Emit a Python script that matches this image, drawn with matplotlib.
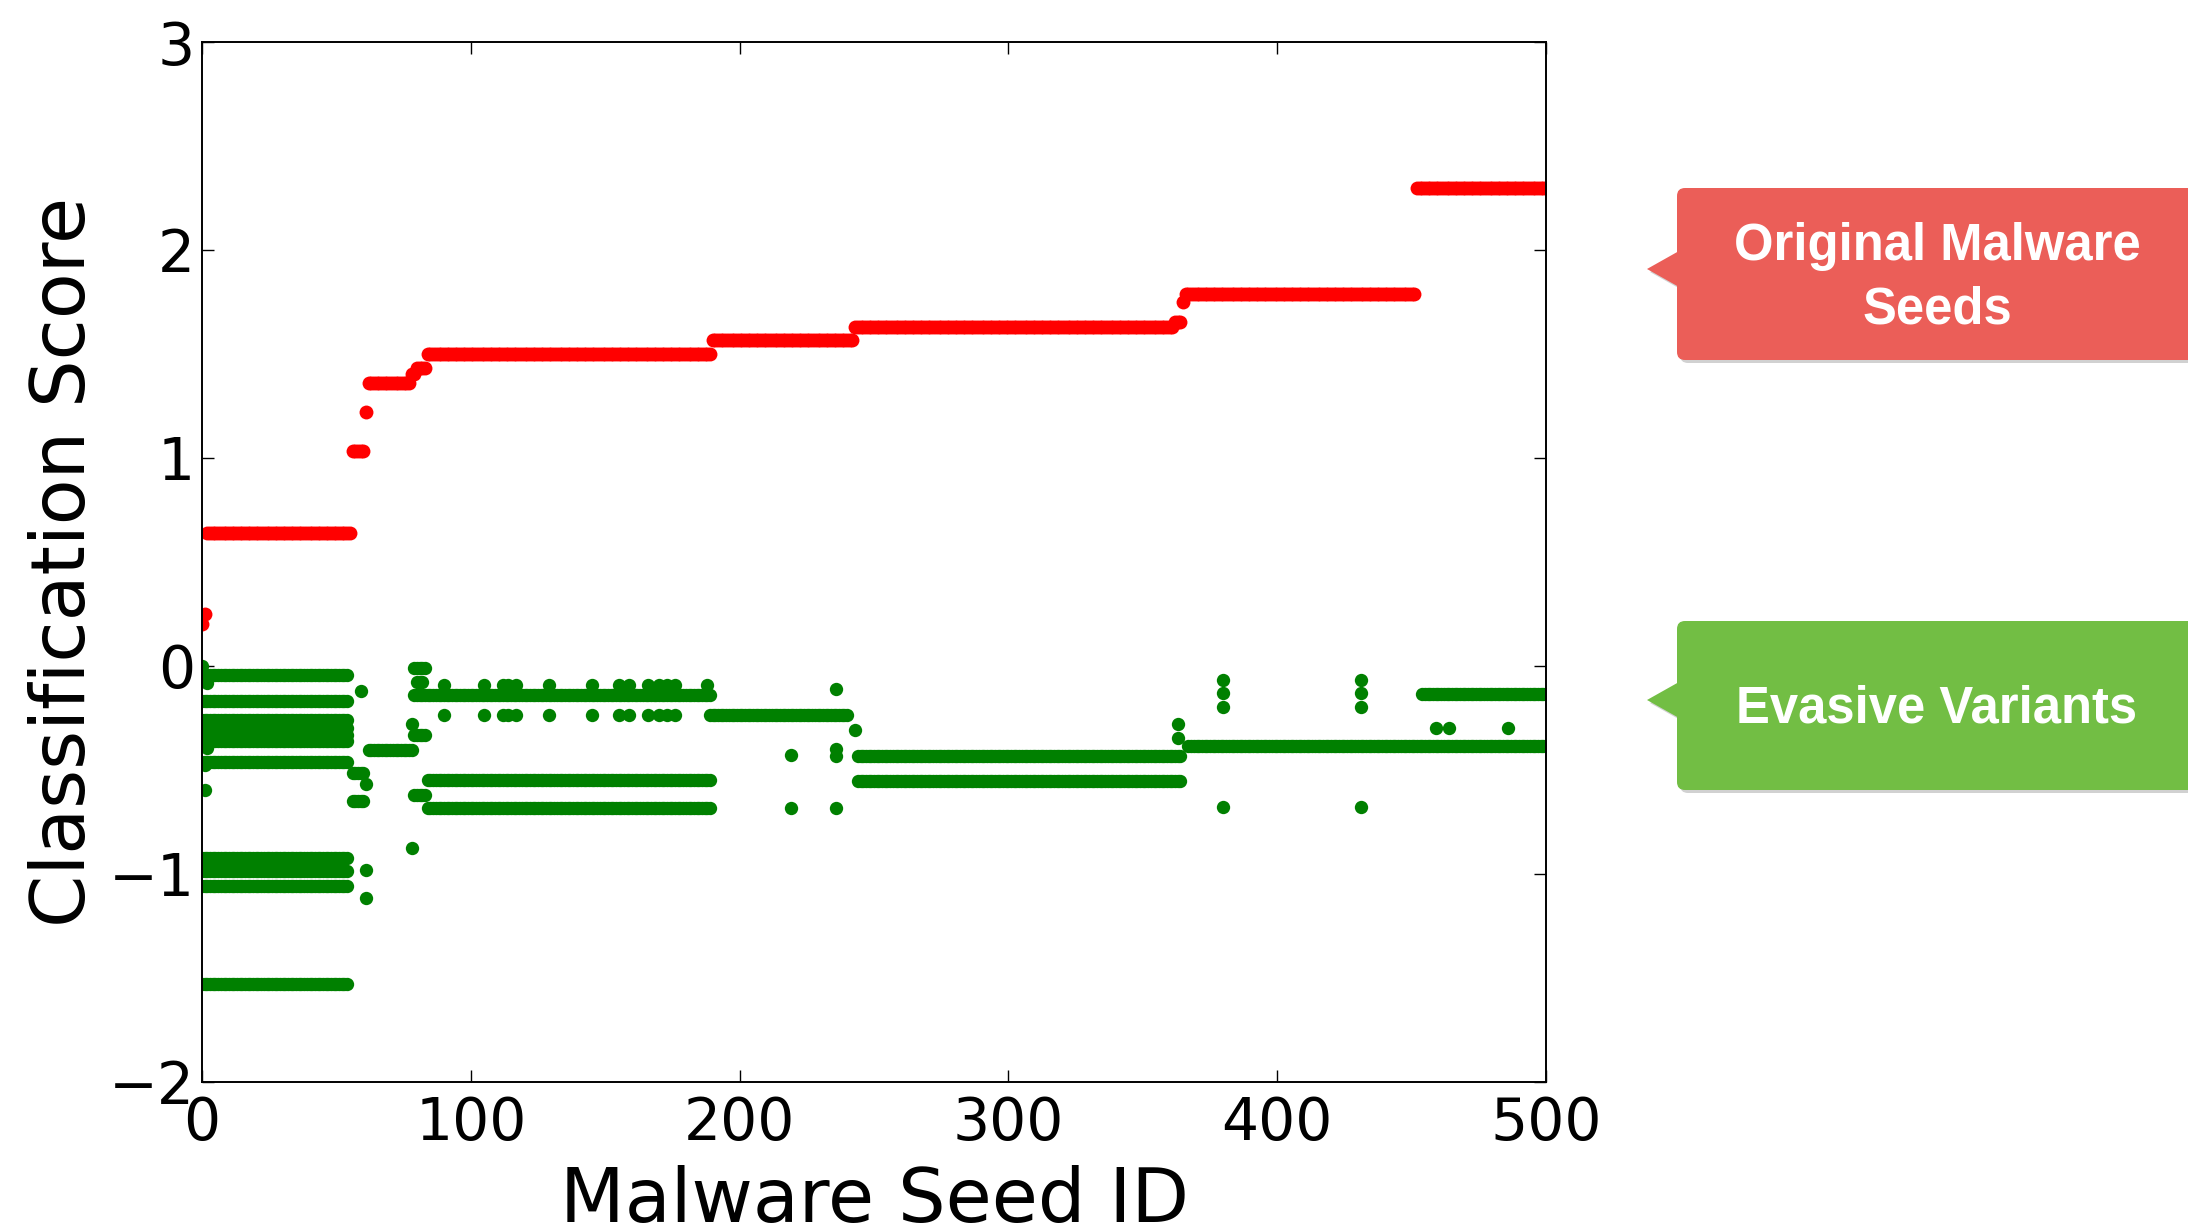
import numpy as np
import matplotlib
matplotlib.use("Agg")
import matplotlib.pyplot as plt
from matplotlib.patches import FancyBboxPatch, Polygon

# ---------------- data ----------------
# Original malware seeds: runs of seeds sharing the same score (sorted ascending)
red_run_start = [0, 1, 2, 56, 61, 62, 78, 80, 84, 190, 243, 362, 365, 366, 452]
red_run_end = [0, 1, 55, 60, 61, 77, 79, 83, 189, 242, 361, 364, 365, 451, 500]
red_run_score = [0.20, 0.25, 0.64, 1.035, 1.22, 1.36, 1.405, 1.43, 1.50, 1.567,
                 1.63, 1.655, 1.747, 1.79, 2.30]

# Evasive variants: horizontal runs (seed range, score)
green_run_start = [0, 0, 0, 0, 0, 0, 0, 0, 0, 0, 0,
                   56, 56, 62, 79, 80, 79, 79, 79, 84, 84, 189, 244, 244, 367, 454]
green_run_end = [54, 54, 54, 54, 54, 54, 54, 54, 54, 54, 54,
                 60, 60, 78, 83, 82, 83, 83, 189, 189, 189, 240, 364, 364, 500, 500]
green_run_score = [-0.043, -0.168, -0.26, -0.30, -0.332, -0.36, -0.465, -0.925, -0.989,
                   -1.061, -1.531, -0.516, -0.652, -0.405, -0.011, -0.078, -0.332, -0.62,
                   -0.143, -0.552, -0.684, -0.237, -0.432, -0.556, -0.388, -0.136]

# Evasive variants: isolated points
green_pt_seed = [0, 2, 2, 1, 1, 59, 61, 61, 61, 78, 78,
                 90, 105, 112, 114, 117, 129, 145, 155, 159, 166, 170, 173, 176, 188,
                 90, 105, 112, 114, 117, 129, 145, 155, 159, 166, 170, 173, 176,
                 219, 219, 236, 236, 236, 236, 243, 363, 363,
                 380, 380, 380, 380, 431, 431, 431, 431, 459, 464, 486]
green_pt_score = [0.0, -0.083, -0.395, -0.48, -0.596, -0.12, -0.567, -0.984, -1.117, -0.279, -0.876,
                  -0.095, -0.095, -0.095, -0.095, -0.095, -0.095, -0.095, -0.095, -0.095, -0.095,
                  -0.095, -0.095, -0.095, -0.095,
                  -0.236, -0.236, -0.236, -0.236, -0.236, -0.236, -0.236, -0.236, -0.236, -0.236,
                  -0.236, -0.236, -0.236,
                  -0.428, -0.684, -0.11, -0.40, -0.435, -0.684, -0.31, -0.279, -0.348,
                  -0.067, -0.131, -0.199, -0.679, -0.067, -0.131, -0.199, -0.679,
                  -0.30, -0.30, -0.30]

x_ticks = [0, 100, 200, 300, 400, 500]
y_ticks = [-2, -1, 0, 1, 2, 3]


def expand(starts, ends, scores):
    xs, ys = [], []
    for s, e, v in zip(starts, ends, scores):
        ids = np.arange(s, e + 1)
        xs.append(ids)
        ys.append(np.full(ids.shape, v, dtype=float))
    return np.concatenate(xs), np.concatenate(ys)


red_x, red_y = expand(red_run_start, red_run_end, red_run_score)
gx, gy = expand(green_run_start, green_run_end, green_run_score)
green_x = np.concatenate([gx, np.array(green_pt_seed)])
green_y = np.concatenate([gy, np.array(green_pt_score)])

# ---------------- figure ----------------
W, H = 2188, 1231
fig = plt.figure(figsize=(W / 100, H / 100), dpi=100)
ax = fig.add_axes([202 / W, (H - 1081.5) / H, (1546 - 202) / W, (1081.5 - 42) / H])

ax.plot(green_x, green_y, linestyle="none", marker="o", ms=9.6, color="#008000",
        markeredgewidth=0)
ax.plot(red_x, red_y, linestyle="none", marker="o", ms=10, color="#ff0000",
        markeredgewidth=0)

ax.set_xlim(0, 500)
ax.set_ylim(-2, 3)
ax.set_xticks(x_ticks)
ax.set_yticks(y_ticks)
ax.tick_params(which="both", direction="in", length=8.5, width=1,
               top=True, right=True, labelsize=42)
ax.tick_params(axis="x", pad=10)
ax.tick_params(axis="y", pad=5)
for sp in ax.spines.values():
    sp.set_linewidth(1.4)

ax.set_xlabel("Malware Seed ID", fontsize=54)
ax.set_ylabel("Classification Score", fontsize=54)
ax.xaxis.set_label_coords(0.5, -0.08)
ax.yaxis.set_label_coords(-0.075, 0.5)

# ---------------- callouts ----------------
oax = fig.add_axes([0, 0, 1, 1], zorder=10)
oax.set_xlim(0, W)
oax.set_ylim(H, 0)
oax.axis("off")


def callout(top, bottom, tip_y, color, text, text_y):
    x0 = 1677
    for dx, dy, c, a in [(3, 3, "#000000", 0.18), (0, 0, color, 1.0)]:
        box = FancyBboxPatch((x0 + dx, top + dy), 700, bottom - top,
                             boxstyle="round,pad=0,rounding_size=8",
                             facecolor=c, edgecolor="none", alpha=a)
        oax.add_patch(box)
        tri = Polygon([(x0 + 2 + dx, tip_y - 18 + dy), (1647 + dx, tip_y + dy),
                       (x0 + 2 + dx, tip_y + 18 + dy)], closed=True,
                      facecolor=c, edgecolor="none", alpha=a)
        oax.add_patch(tri)
    oax.text(1937, text_y, text, ha="center", va="center", color="white",
             fontsize=36.5, fontweight="bold", family=["Liberation Sans", "DejaVu Sans"],
             linespacing=1.38)


callout(188, 360, 269, "#eb5e58", "Original Malware\nSeeds", 278)
callout(621, 790, 700, "#72be44", "Evasive Variants", 709)

fig.savefig("out.png", dpi=100)
